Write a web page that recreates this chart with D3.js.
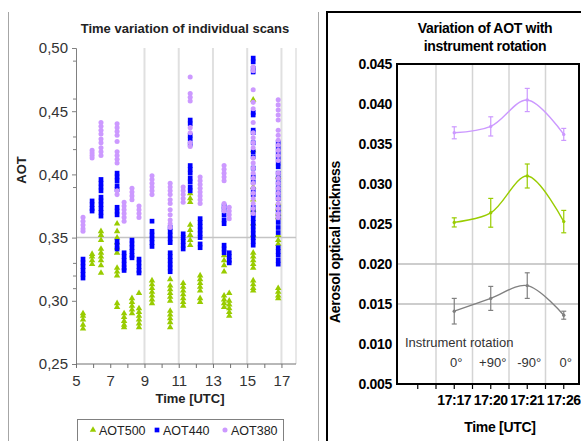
<!DOCTYPE html>
<html>
<head>
<meta charset="utf-8">
<script src="https://cdn.jsdelivr.net/npm/d3@7"></script>
<style>
  body { margin: 0; background: #fff; }
  svg { display: block; font-family: "Liberation Sans", Arial, sans-serif; }
</style>
</head>
<body>
<div id="chart"></div>
<script>
// ---- left panel: individual scans ----
const scanTimes = [5.41, 5.94, 6.46, 7.40, 7.81, 8.27, 8.68, 9.44, 10.50, 11.26, 11.67, 12.25, 13.65, 13.95, 15.35, 16.81];

const aot500 = [
  [0.290, 0.288, 0.285, 0.281, 0.278],
  [0.337, 0.335, 0.332, 0.329],
  [0.355, 0.352, 0.348, 0.341, 0.338, 0.335, 0.332, 0.328, 0.322],
  [0.361, 0.355, 0.350, 0.346, 0.342, 0.338, 0.326, 0.323, 0.320, 0.298, 0.295],
  [0.290, 0.287, 0.284, 0.281, 0.279],
  [0.302, 0.299, 0.296, 0.293, 0.290],
  [0.306, 0.294, 0.291, 0.288, 0.285, 0.282, 0.279],
  [0.316, 0.313, 0.310, 0.307, 0.304, 0.301, 0.298],
  [0.317, 0.312, 0.309, 0.306, 0.303, 0.300, 0.292, 0.289, 0.286, 0.283, 0.279],
  [0.314, 0.311, 0.308, 0.305, 0.302, 0.299, 0.296],
  [0.385, 0.381, 0.378, 0.360, 0.356, 0.352, 0.348, 0.344],
  [0.320, 0.317, 0.314, 0.311, 0.308, 0.302, 0.299],
  [0.336, 0.332, 0.328, 0.323, 0.304, 0.301, 0.298, 0.295],
  [0.306, 0.300, 0.297, 0.294, 0.291, 0.288],
  [0.459, 0.419, 0.390, 0.380, 0.372, 0.361, 0.352, 0.338, 0.335, 0.332, 0.329, 0.326, 0.316, 0.313, 0.310, 0.308],
  [0.398, 0.377, 0.373, 0.369, 0.366, 0.352, 0.348, 0.345, 0.310, 0.307, 0.304, 0.302]
];

const aot440 = [
  [0.333, 0.330, 0.327, 0.324, 0.321, 0.318],
  [0.379, 0.376, 0.373, 0.371],
  [0.396, 0.393, 0.390, 0.387, 0.382, 0.379, 0.376, 0.373, 0.370, 0.367],
  [0.401, 0.398, 0.395, 0.391, 0.388, 0.374, 0.371, 0.368, 0.347, 0.344, 0.341],
  [0.338, 0.335, 0.332, 0.329, 0.326, 0.324],
  [0.348, 0.345, 0.342, 0.339, 0.336, 0.334],
  [0.333, 0.330, 0.327, 0.324, 0.322],
  [0.363, 0.355, 0.352, 0.349, 0.346, 0.343],
  [0.358, 0.355, 0.352, 0.349, 0.346, 0.338, 0.335, 0.332, 0.329, 0.326, 0.323],
  [0.353, 0.350, 0.347, 0.344, 0.341],
  [0.443, 0.440, 0.431, 0.428, 0.424, 0.407, 0.404, 0.401, 0.397, 0.394, 0.390, 0.387],
  [0.365, 0.362, 0.359, 0.356, 0.353, 0.350, 0.345, 0.342],
  [0.375, 0.372, 0.368, 0.364, 0.361, 0.344, 0.341, 0.338],
  [0.338, 0.335, 0.332, 0.330],
  [0.492, 0.489, 0.484, 0.481, 0.449, 0.447, 0.435, 0.433, 0.425, 0.418, 0.414, 0.405, 0.398, 0.394, 0.388, 0.384,
   0.374, 0.371, 0.368, 0.365, 0.362, 0.359, 0.356, 0.353, 0.350, 0.347, 0.344],
  [0.425, 0.421, 0.417, 0.413, 0.409, 0.406, 0.401, 0.397, 0.393, 0.389, 0.385, 0.381, 0.374, 0.370, 0.366, 0.362,
   0.358, 0.354, 0.342, 0.339, 0.336, 0.332, 0.329]
];

const aot380 = [
  [0.366, 0.363, 0.360, 0.357, 0.355],
  [0.419, 0.417, 0.415, 0.413],
  [0.441, 0.438, 0.435, 0.432, 0.428, 0.425, 0.421, 0.418, 0.415],
  [0.440, 0.437, 0.434, 0.431, 0.426, 0.418, 0.415, 0.412, 0.409, 0.387, 0.384],
  [0.378, 0.375, 0.372, 0.369, 0.366, 0.363],
  [0.389, 0.386, 0.383, 0.380],
  [0.375, 0.372, 0.369, 0.366],
  [0.399, 0.396, 0.393, 0.390, 0.387, 0.384],
  [0.393, 0.390, 0.387, 0.384, 0.380, 0.377, 0.372, 0.368, 0.364, 0.361, 0.358],
  [0.390, 0.387, 0.384, 0.381, 0.378],
  [0.477, 0.464, 0.461, 0.458, 0.437, 0.433, 0.425, 0.422],
  [0.398, 0.395, 0.392, 0.389, 0.386, 0.383, 0.380, 0.377],
  [0.407, 0.404, 0.401, 0.398, 0.395, 0.377, 0.374, 0.371],
  [0.374, 0.371, 0.368, 0.365],
  [0.485, 0.482, 0.467, 0.457, 0.452, 0.441, 0.433, 0.429, 0.425, 0.421, 0.413, 0.409, 0.405, 0.401, 0.397, 0.393,
   0.389, 0.385, 0.381, 0.377, 0.373, 0.369],
  [0.459, 0.455, 0.451, 0.447, 0.443, 0.435, 0.431, 0.427, 0.423, 0.419, 0.415, 0.411, 0.401, 0.397, 0.393, 0.389,
   0.385, 0.381, 0.377, 0.373, 0.369, 0.366]
];

const scanNames = ['AOT500', 'AOT440', 'AOT380'];
const xTicksLeft = [5, 7, 9, 11, 13, 15, 17];
const xGridLeft = [9, 11, 13, 15, 17];
const yTicksLeft = [0.25, 0.30, 0.35, 0.40, 0.45, 0.50];
const yMinorLeft = [0.49, 0.46, 0.43, 0.42, 0.39, 0.33, 0.32, 0.31];

// ---- right panel: instrument rotation ----
const rotTimes = ['17:17', '17:20', '17:21', '17:26'];
const rotAngles = ['0°', '+90°', '-90°', '0°'];
const rotPurple = [0.0364, 0.0372, 0.0405, 0.0362];
const rotPurpleErr = [0.00075, 0.0012, 0.00145, 0.00075];
const rotGreen = [0.0252, 0.0264, 0.0310, 0.0253];
const rotGreenErr = [0.00057, 0.0018, 0.0015, 0.0014];
const rotGray = [0.0141, 0.0157, 0.0173, 0.0136];
const rotGrayErr = [0.0016, 0.0015, 0.0016, 0.0005];
const yTicksRight = [0.005, 0.010, 0.015, 0.020, 0.025, 0.030, 0.035, 0.040, 0.045];
const yGridRight = [0.015, 0.020];

const colors = { g: '#99cc00', b: '#0000ff', p: '#cc99ff', gray: '#808080' };

const W = 581, H = 441;
const svg = d3.select('#chart').append('svg').attr('width', W).attr('height', H);

// panel frames
svg.append('line').attr('x1', 8.5).attr('x2', 8.5).attr('y1', 12).attr('y2', H)
  .attr('stroke', '#a6a6a6').attr('stroke-width', 1);
svg.append('line').attr('x1', 318.5).attr('x2', 318.5).attr('y1', 12).attr('y2', H)
  .attr('stroke', '#a6a6a6').attr('stroke-width', 1);
svg.append('rect').attr('x', 327).attr('y', 12).attr('width', 270).attr('height', 450)
  .attr('fill', 'none').attr('stroke', '#000').attr('stroke-width', 2);

// ================= left chart =================
const L = { left: 76, right: 296, top: 48, bottom: 364 };
const x = d3.scaleLinear().domain([5, 17.85]).range([L.left, L.right]);
const y = d3.scaleLinear().domain([0.25, 0.50]).range([L.bottom, L.top]);

const left = svg.append('g');

left.append('g').selectAll('line').data(xGridLeft).join('line')
  .attr('x1', d => x(d)).attr('x2', d => x(d)).attr('y1', L.top).attr('y2', L.bottom)
  .attr('stroke', '#e0e0e0').attr('stroke-width', 2);
left.append('line').attr('x1', L.right).attr('x2', L.right).attr('y1', L.top).attr('y2', L.bottom)
  .attr('stroke', '#e0e0e0').attr('stroke-width', 1.5);
left.append('line').attr('x1', L.left).attr('x2', L.right).attr('y1', y(0.35)).attr('y2', y(0.35))
  .attr('stroke', '#c4c4c4').attr('stroke-width', 1.5);

// points, drawn green -> blue -> purple
const flat = arr => arr.flatMap((vals, i) => vals.map(v => ({ t: scanTimes[i], v })));
const scanSeries = [
  { name: scanNames[0], pts: flat(aot500), color: colors.g, sym: d3.symbolTriangle, size: 18 },
  { name: scanNames[1], pts: flat(aot440), color: colors.b, sym: d3.symbolSquare, size: 22 },
  { name: scanNames[2], pts: flat(aot380), color: colors.p, sym: d3.symbolCircle, size: 20 }
];
scanSeries.forEach(s => {
  left.append('g').selectAll('path').data(s.pts).join('path')
    .attr('d', d3.symbol().type(s.sym).size(s.size))
    .attr('transform', d => `translate(${x(d.t)},${y(d.v)})`)
    .attr('fill', s.color);
});

// axes
const yAxisL = left.append('g').attr('transform', `translate(${L.left},0)`)
  .call(d3.axisLeft(y).tickValues(yTicksLeft).tickSize(4).tickPadding(4)
    .tickFormat(d => d3.format('.2f')(d).replace('.', ',')));
yAxisL.append('g').call(d3.axisLeft(y).tickValues(yMinorLeft).tickSize(3).tickFormat(''))
  .select('.domain').remove();
yAxisL.selectAll('.domain, line').attr('stroke', '#808080');
yAxisL.selectAll('text').attr('font-size', 15).attr('fill', '#333').attr('font-family', null);

const xAxisL = left.append('g').attr('transform', `translate(0,${L.bottom})`)
  .call(d3.axisBottom(x).tickValues(d3.range(5, 18)).tickSize(4)
    .tickFormat(d => xTicksLeft.includes(d) ? d : ''));
xAxisL.select('.domain').attr('d', `M${L.left},0H${L.right}`);
xAxisL.selectAll('.domain, line').attr('stroke', '#707070');
xAxisL.selectAll('text').attr('font-size', 15).attr('fill', '#333').attr('y', 11).attr('font-family', null);

left.append('text').attr('x', 185).attr('y', 33).attr('text-anchor', 'middle')
  .attr('font-size', 13).attr('font-weight', 'bold').attr('fill', '#222')
  .text('Time variation of individual scans');
left.append('text').attr('transform', 'translate(26,170) rotate(-90)').attr('text-anchor', 'middle')
  .attr('font-size', 13).attr('font-weight', 'bold').attr('fill', '#222').text('AOT');
left.append('text').attr('x', 190).attr('y', 403).attr('text-anchor', 'middle')
  .attr('font-size', 13).attr('font-weight', 'bold').attr('fill', '#222').text('Time [UTC]');

// legend
const legend = left.append('g');
legend.append('rect').attr('x', 77.5).attr('y', 419.5).attr('width', 206).attr('height', 40)
  .attr('fill', 'none').attr('stroke', '#808080');
const legX = [93, 157, 225];
scanSeries.forEach((s, i) => {
  legend.append('path').attr('d', d3.symbol().type(s.sym).size(s.size)())
    .attr('transform', `translate(${legX[i]},430)`).attr('fill', s.color);
  legend.append('text').attr('x', legX[i] + 6).attr('y', 434.5)
    .attr('font-size', 12.5).attr('fill', '#222').text(s.name);
});

// ================= right chart =================
const R = { left: 397, right: 579, top: 64, bottom: 384 };
const xr = d3.scaleBand().domain(rotTimes).range([436, 582]);
const bw = xr.bandwidth();
const xc = d => xr(d) + bw / 2;
const yr = d3.scaleLinear().domain([0.005, 0.045]).range([R.bottom, R.top]);

const right = svg.append('g');

right.append('g').selectAll('line').data(rotTimes).join('line')
  .attr('x1', d => xr(d)).attr('x2', d => xr(d)).attr('y1', R.top).attr('y2', R.bottom)
  .attr('stroke', '#d4d4d4').attr('stroke-width', 1.5);
right.append('g').selectAll('line').data(yGridRight).join('line')
  .attr('x1', R.left).attr('x2', R.right).attr('y1', d => yr(d)).attr('y2', d => yr(d))
  .attr('stroke', '#bdbdbd').attr('stroke-width', 1.5);

const rotSeries = [
  { vals: rotPurple, err: rotPurpleErr, color: colors.p },
  { vals: rotGreen, err: rotGreenErr, color: colors.g },
  { vals: rotGray, err: rotGrayErr, color: colors.gray }
];
const line = d3.line().x((d, i) => xc(rotTimes[i])).y(d => yr(d)).curve(d3.curveCatmullRom.alpha(0.5));
rotSeries.forEach(s => {
  const g = right.append('g');
  g.append('path').attr('d', line(s.vals)).attr('fill', 'none')
    .attr('stroke', s.color).attr('stroke-width', 1.4);
  const eb = g.selectAll('g.eb').data(s.vals).join('g');
  eb.append('line')
    .attr('x1', (d, i) => xc(rotTimes[i])).attr('x2', (d, i) => xc(rotTimes[i]))
    .attr('y1', (d, i) => yr(d + s.err[i])).attr('y2', (d, i) => yr(d - s.err[i]))
    .attr('stroke', s.color).attr('stroke-width', 1.2);
  [1, -1].forEach(sign => {
    eb.append('line')
      .attr('x1', (d, i) => xc(rotTimes[i]) - 2.5).attr('x2', (d, i) => xc(rotTimes[i]) + 2.5)
      .attr('y1', (d, i) => yr(d + sign * s.err[i])).attr('y2', (d, i) => yr(d + sign * s.err[i]))
      .attr('stroke', s.color).attr('stroke-width', 1.2);
  });
  eb.append('circle').attr('cx', (d, i) => xc(rotTimes[i])).attr('cy', d => yr(d))
    .attr('r', 1.7).attr('fill', s.color);
});

// frame and axes
right.append('rect').attr('x', R.left).attr('y', R.top).attr('width', R.right - R.left)
  .attr('height', R.bottom - R.top).attr('fill', 'none').attr('stroke', '#000').attr('stroke-width', 2);

const yAxisR = right.append('g').attr('transform', `translate(${R.left},0)`)
  .call(d3.axisLeft(yr).tickValues(yTicksRight).tickSize(0).tickPadding(5).tickFormat(d3.format('.3f')));
yAxisR.select('.domain').remove();
yAxisR.selectAll('text').attr('font-size', 14).attr('font-weight', 'bold').attr('fill', '#000')
  .attr('font-family', null).attr('letter-spacing', -0.3);

const halfTicks = [xr(rotTimes[0]) - bw / 2].concat(rotTimes.flatMap(d => [xr(d), xc(d)]));
right.append('g').selectAll('line').data(halfTicks).join('line')
  .attr('x1', d => d).attr('x2', d => d).attr('y1', R.bottom).attr('y2', R.bottom + 5)
  .attr('stroke', '#000').attr('stroke-width', 1.2);
right.append('g').selectAll('text').data(rotTimes).join('text')
  .attr('x', d => xc(d)).attr('y', 405).attr('text-anchor', 'middle')
  .attr('font-size', 14).attr('font-weight', 'bold').attr('letter-spacing', -0.4).attr('fill', '#000')
  .text(d => d);

right.append('text').attr('x', 405).attr('y', 347).attr('font-size', 13).attr('fill', '#333')
  .text('Instrument rotation');
right.append('g').selectAll('text').data(rotAngles).join('text')
  .attr('x', (d, i) => xc(rotTimes[i]) + 2).attr('y', 367).attr('text-anchor', 'middle')
  .attr('font-size', 13).attr('fill', '#333').text(d => d);

right.append('text').attr('x', 485).attr('y', 33).attr('text-anchor', 'middle')
  .attr('font-size', 14).attr('font-weight', 'bold').attr('letter-spacing', -0.3).attr('fill', '#000')
  .text('Variation of AOT with');
right.append('text').attr('x', 485).attr('y', 51).attr('text-anchor', 'middle')
  .attr('font-size', 14).attr('font-weight', 'bold').attr('letter-spacing', -0.3).attr('fill', '#000')
  .text('instrument rotation');
right.append('text').attr('transform', 'translate(340,242) rotate(-90)').attr('text-anchor', 'middle')
  .attr('font-size', 14).attr('font-weight', 'bold').attr('letter-spacing', -0.3).attr('fill', '#000')
  .text('Aerosol optical thickness');
right.append('text').attr('x', 500).attr('y', 432).attr('text-anchor', 'middle')
  .attr('font-size', 14).attr('font-weight', 'bold').attr('letter-spacing', -0.3).attr('fill', '#000')
  .text('Time [UTC]');
</script>
</body>
</html>
